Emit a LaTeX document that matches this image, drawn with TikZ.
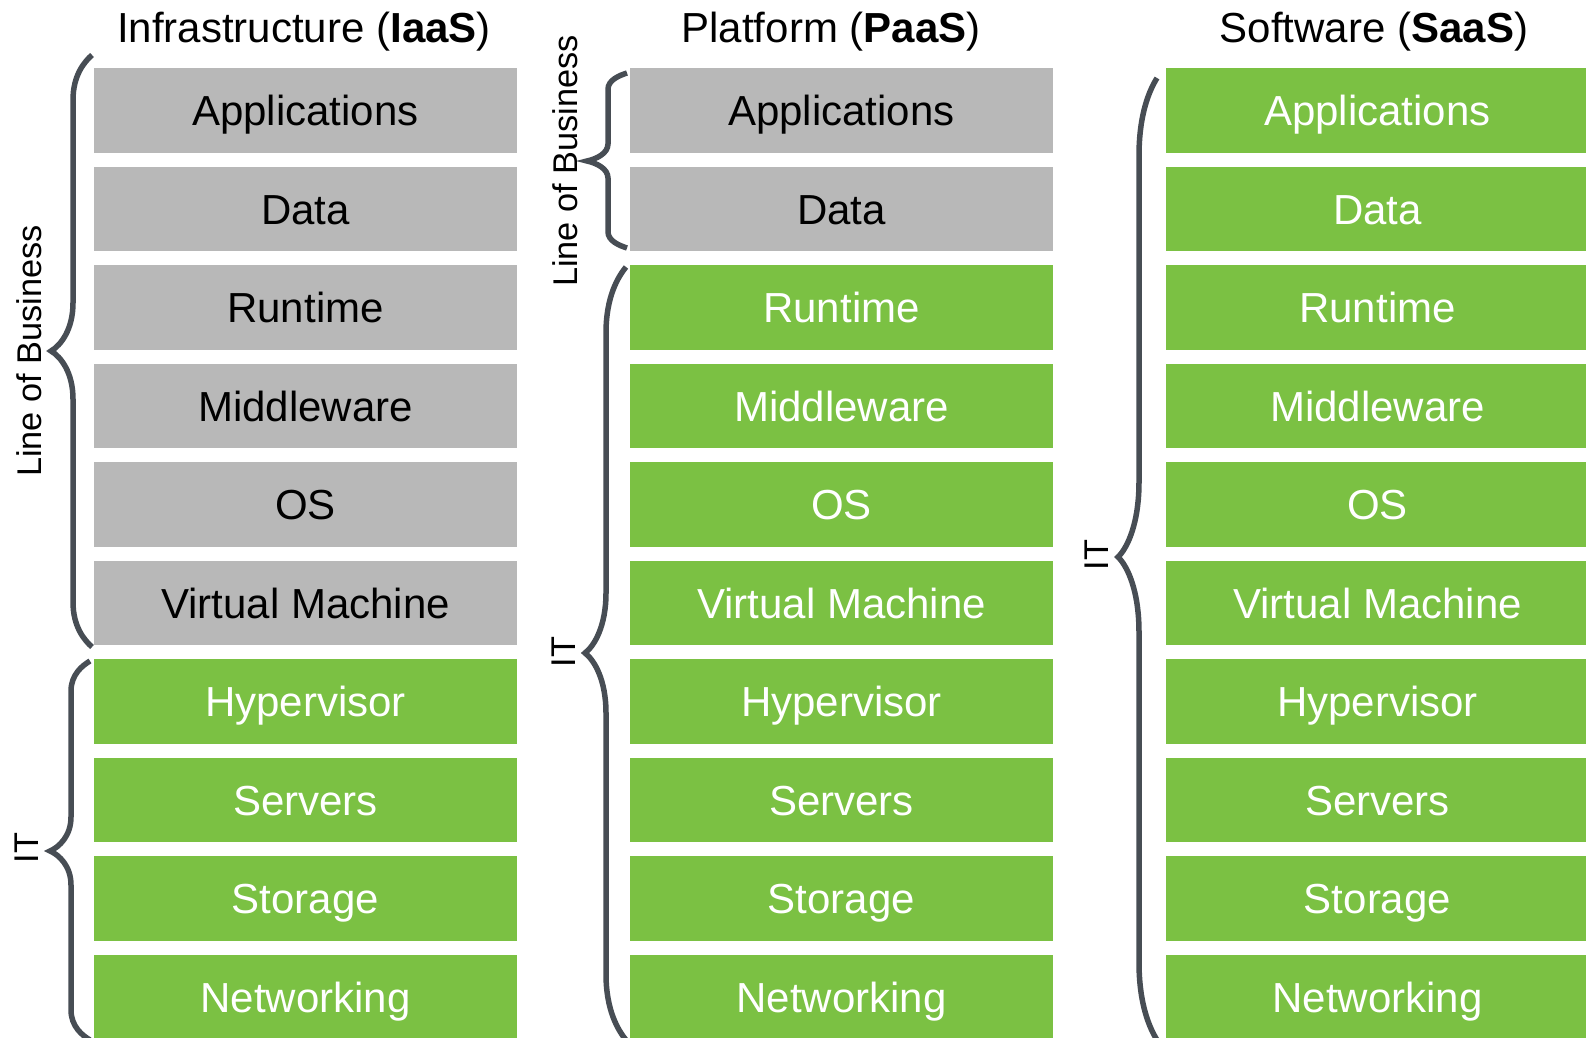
\documentclass[tikz,border=0pt]{standalone}
\usepackage{fontspec}
\setmainfont{Liberation Sans}
\definecolor{boxgray}{HTML}{B8B8B8}
\definecolor{boxgreen}{HTML}{7BC143}
\definecolor{bracecol}{HTML}{474D54}
% #1 xe, #2 yt, #3 yb, #4 xv, #5 xt, #6 ym, #7 h, #8 m
\newcommand\cbrace[8]{%
  \draw[bracestyle] (#1,#2)
    .. controls ({#1-(#1-#4)*0.4},{#2+#7*0.15}) and (#4,{#2+#7*0.45}) .. (#4,{#2+#7})
    -- (#4,{#6-#8})
    .. controls (#4,{#6-#8*0.45}) and ({#5+(#4-#5)*0.45},{#6-#8*0.12}) .. (#5,#6)
    .. controls ({#5+(#4-#5)*0.45},{#6+#8*0.12}) and (#4,{#6+#8*0.45}) .. (#4,{#6+#8})
    -- (#4,{#3-#7})
    .. controls (#4,{#3-#7*0.45}) and ({#1-(#1-#4)*0.4},{#3-#7*0.15}) .. (#1,#3);}
\begin{document}
\begin{tikzpicture}[x=0.5pt,y=-0.5pt,
  box/.style={minimum width=211.5pt, minimum height=42.25pt, inner sep=0pt,
    text height=15pt, text depth=0pt, font=\fontsize{21}{25}\selectfont},
  grbox/.style={box, fill=boxgray, text=black},
  gnbox/.style={box, fill=boxgreen, text=white},
  title/.style={anchor=base, inner sep=0pt, font=\fontsize{21}{25}\selectfont},
  side/.style={anchor=base, rotate=90, inner sep=0pt, font=\fontsize{17.15}{20}\selectfont},
  bracestyle/.style={draw=bracecol, line width=2.75pt}]
\useasboundingbox (0,0) rectangle (1586,1038);
% titles
\node[title] (t1) at (304,42.3) {Infrastructure (\textbf{IaaS})};
\node[title] (t2) at (831,42.3) {Platform (\textbf{PaaS})};
\node[title] (t3) at (1374,42.3) {Software (\textbf{SaaS})};
% boxes
\foreach \lab [count=\i] in {Applications,Data,Runtime,Middleware,OS,Virtual Machine,Hypervisor,Servers,Storage,Networking}{
  \pgfmathsetmacro\yc{68.3+98.5*(\i-1)+42.25}
  \ifnum\i<7 \tikzset{curA/.style={grbox}}\else\tikzset{curA/.style={gnbox}}\fi
  \ifnum\i<3 \tikzset{curB/.style={grbox}}\else\tikzset{curB/.style={gnbox}}\fi
  \node[curA] (a\i) at (305.5,\yc) {\lab};
  \node[curB] (b\i) at (841.5,\yc) {\lab};
  \node[gnbox] (c\i) at (1377.5,\yc) {\lab};
}
% braces
\cbrace{92}{55}{647}{73}{51}{351}{45}{48}
\cbrace{90}{661}{1040}{71}{50}{851}{30}{34}
\cbrace{627}{73}{248}{608}{587}{161}{16}{17}
\cbrace{626}{267}{1040}{606}{585}{653}{66}{60}
\cbrace{1157}{78}{1040}{1139}{1118}{557}{78}{75}
% side labels
\node[side] (l1) at (41.5,351) {Line of Business};
\node[side] (i1) at (39,848) {IT};
\node[side] (l2) at (577,161) {Line of Business};
\node[side] (i2) at (575,652) {IT};
\node[side] (i3) at (1108,555) {IT};
\end{tikzpicture}
\end{document}
